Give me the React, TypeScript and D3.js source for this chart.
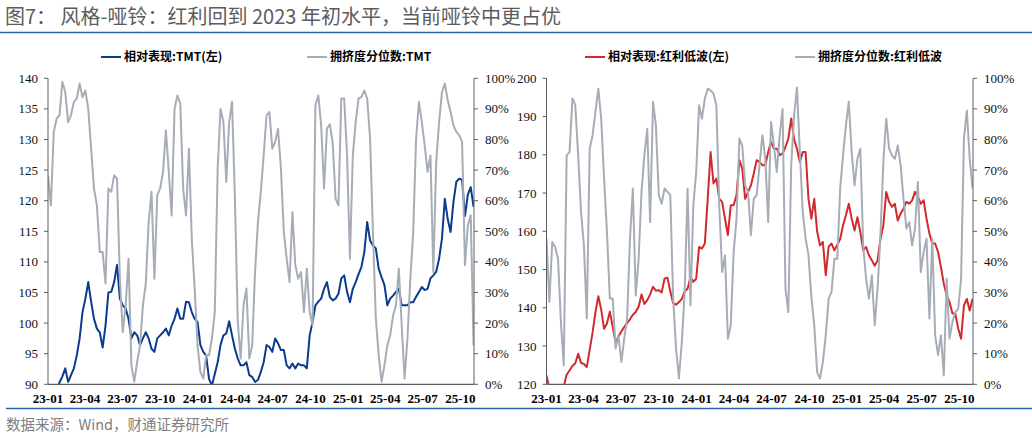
import React from 'react';
import * as d3 from 'd3';

// ---------- data ----------
const startDate = new Date(2023, 0, 1);
const endDate = new Date(2025, 10, 3);
const weekStep = 7; // one value per week from startDate

const xTickLabels = ['23-01', '23-04', '23-07', '23-10', '24-01', '24-04', '24-07', '24-10', '25-01', '25-04', '25-07', '25-10'];

const tmtTicksLeft = [90, 95, 100, 105, 110, 115, 120, 125, 130, 135, 140];
const lowVolTicksLeft = [120, 130, 140, 150, 160, 170, 180, 190, 200];
const pctTicks = [0, 10, 20, 30, 40, 50, 60, 70, 80, 90, 100];

// 相对表现:TMT(左)
const tmtRelative = [
  89, 88.8, 88.5, 89, 90.3, 91.3, 92.6, 90.4, 91.5, 92.6,
  94.7, 97.5, 101.8, 104, 106.7, 103.5, 100.7, 99.1, 98.5, 96,
  99.6, 105, 105.1, 106.7, 109.5, 104, 102.9, 102.4, 100.7, 97.5,
  98.5, 98, 96.4, 97.5, 98.5, 97.5, 95.8, 95.3, 97.5, 98,
  98.5, 99.1, 98, 99.6, 100.7, 102.4, 100.7, 100.7, 103.5, 103.4,
  101.8, 100.7, 100.2, 96.4, 95.3, 94.7, 90.9, 89.8, 91.7, 93.6,
  96.4, 98, 98.3, 100.3, 98, 95.8, 94.2, 93.1, 93.1, 93.6,
  91.5, 91.2, 90.4, 90.7, 92, 93.6, 96.4, 96.1, 95.3, 97.5,
  96.7, 95.6, 95.6, 93.1, 92.6, 93.4, 92.6, 93.4, 93.1, 93.1,
  92.6, 98, 100.2, 102.9, 103.5, 104, 105.6, 106.7, 104.3, 103.7,
  104, 104.8, 107.3, 107.8, 105.1, 103.4, 105.6, 106.7, 108, 109.2,
  111.6, 116.5, 113.5, 112.7, 112.2, 108.9, 107.5, 106.2, 102.9, 104,
  104.5, 105.1, 105.6, 102.9, 102.9, 102.9, 103.4, 103.4, 104.3, 105.1,
  105.9, 105.4, 105.6, 107.3, 107.8, 108.4, 110.5, 113.8, 120.3, 117,
  114.9, 119.8, 123.1, 123.6, 123.4, 117.5, 121, 122.2, 119,
];

// 拥挤度分位数:TMT (%)
const tmtCrowding = [
  68.3, 58.5, 82.5, 86.8, 87.9, 98.8, 95.5, 85.7, 87.9, 92.3,
  93.4, 98.3, 93.8, 96, 90, 77, 63.9, 58.5, 43.2, 43.2,
  33, 64, 62.9, 68.3, 67.2, 34.5, 17.1, 25.8, 41, 6.2,
  0.8, 7.3, 12.7, 25.8, 32.9, 53, 62.9, 34.5, 61.8, 64,
  69.4, 83, 69.4, 55.2, 90, 94.4, 91.7, 63.9, 55.2, 77,
  47.6, 31.3, 12.7, 4, 1.9, 9.5, 9.5, 14.9, 23.6, 70.5,
  90, 85.7, 66.1, 85.7, 92.3, 60.7, 20.4, 8.4, 25.8, 31.3,
  8.4, 12.7, 36.7, 53, 62.9, 74.8, 87.9, 89, 77, 79.2,
  83.5, 70.5, 49.8, 41, 33.4, 56.3, 38.9, 34.5, 36.7, 23.6,
  37.8, 23.6, 19.3, 91.2, 94.4, 84.6, 64, 83.5, 85, 79,
  60.7, 58.5, 93.4, 93.4, 74.8, 41, 74.8, 85.7, 93.4, 93.9,
  96, 93.4, 80.3, 49.8, 21.5, 9.5, 0.8, 6.2, 12.7, 16,
  22.5, 25.8, 37.8, 19.3, 1.9, 14.9, 34.5, 49.8, 80.3, 92.3,
  85.7, 78, 69.4, 74.8, 36.7, 72.7, 85.7, 95.5, 98.3, 92.8,
  89, 84.6, 82.5, 81.4, 79.2, 38.9, 52, 55.2, 12.7,
];

// 相对表现:红利低波(左)
const lowVolRelative = [
  122.3, 119, 117.5, 117, 117.5, 118.5, 119.5, 122.5, 123.6, 124.8,
  125.5, 128, 125.6, 125.3, 124.5, 129, 133.5, 138.8, 143, 139.5,
  134.5, 135.9, 139, 135, 131, 132.5, 133.8, 135, 136, 137,
  138.2, 138.9, 140.3, 143.5, 141, 142, 143.5, 145.5, 144.5, 144.6,
  144, 147.6, 147.9, 144.3, 141.2, 140.8, 141.5, 142.3, 144.3, 145,
  148, 146.8, 147.6, 155.9, 155.5, 156.8, 168.5, 180.7, 172.5, 173.8,
  168.5, 167.7, 163.3, 159, 166.8, 166.8, 169.4, 178.6, 176.4, 168.5,
  170.3, 172, 175.1, 178.6, 178.1, 177.3, 177.3, 180.7, 183.4, 181.6,
  181.6, 179.9, 180.3, 182.1, 184.2, 189.5, 184, 181.6, 178.1, 180.7,
  180.7, 168.5, 163.3, 168.5, 160, 156.3, 157.2, 148.5, 156, 156.8,
  155, 156.5, 158, 161.5, 164.2, 167.2, 163.3, 160.2, 163.7, 159.8,
  155, 155.9, 153.7, 152.4, 151, 152.4, 158, 161.5, 170.3, 167.7,
  166.4, 167.2, 162.8, 164.6, 165.9, 167.7, 167.2, 168.1, 170.3, 169,
  167.2, 168.1, 163.3, 159.4, 156.8, 156.8, 154.6, 150.7, 146.3, 143.2,
  141.5, 138.5, 138.5, 134.6, 131.9, 140.6, 142.3, 139.3, 142.3,
];

// 拥挤度分位数:红利低波 (%)
const lowVolCrowding = [
  47.6, 26.9, 46.5, 44.9, 41, 20.4, 6.2, 74.8, 75.9, 93.4,
  91.2, 74.8, 56.3, 45.4, 21.5, 77, 81.4, 89, 96.6, 86.8,
  67.2, 49.8, 28, 28, 11.7, 16, 7.3, 14.9, 21.5, 47.6,
  64, 29, 41, 62.9, 74.8, 83.5, 53, 92.3, 84.6, 61.8,
  59, 64, 62.9, 61.8, 28, 11.7, 1.9, 13.8, 30.2, 64,
  25.8, 58.5, 69.4, 91.2, 86.8, 93.4, 96.6, 96, 95, 91.2,
  58.5, 36.7, 42.2, 14.9, 19.3, 43.2, 54, 80.3, 78, 65,
  62.9, 48.7, 60.7, 61.8, 71.6, 81.4, 73.7, 53, 85.7, 78,
  69.4, 81.4, 90, 31.3, 23.6, 71.6, 87.9, 97, 75.9, 56.3,
  47.6, 42.2, 28.5, 19.3, 4, 1.9, 7.3, 16, 28, 30.2,
  41, 41, 64, 74.8, 84.6, 92.3, 75.9, 65, 73.7, 77,
  45.4, 34.5, 28, 35.6, 19.3, 31.3, 48.7, 72.7, 86.8, 77,
  74.8, 73.7, 78, 71.6, 60.7, 50.9, 53, 45.4, 50.9, 66.1,
  36.7, 43.2, 47.6, 21.5, 47.6, 16, 9.5, 16, 2.9, 34.5,
  14.9, 20.4, 23.6, 24.6, 34.5, 80.3, 89.5, 73.7, 64,
];

const title = '图7：  风格-哑铃：红利回到 2023 年初水平，当前哑铃中更占优';
const source = '数据来源：Wind，财通证券研究所';

// ---------- styles ----------
const SERIF = '"Times New Roman", "Liberation Serif", serif';
const SANS = '"Noto Sans CJK SC", "Microsoft YaHei", sans-serif';
const AXIS_COLOR = '#5f5f5f';
const GRAY = '#a7adb7';
const BLUE = '#0b3a8e';
const RED = '#d02a2e';
const TOP = 78.3;
const BOTTOM = 384.3;

type PanelProps = {
  id: string;
  x0: number;
  x1: number;
  leftTicks: number[];
  rel: number[];
  crowd: number[];
  relColor: string;
  legendRel: string;
  legendCrowd: string;
  legendRelX: number;
  legendCrowdX: number;
};

function Panel(p: PanelProps) {
  const x = d3.scaleTime().domain([startDate, endDate]).range([p.x0, p.x1]);
  const yL = d3.scaleLinear().domain([p.leftTicks[0], p.leftTicks[p.leftTicks.length - 1]]).range([BOTTOM, TOP]);
  const yR = d3.scaleLinear().domain([0, 100]).range([BOTTOM, TOP]);
  const dateOf = (i: number) => d3.timeDay.offset(startDate, i * weekStep);

  const relLine = d3.line<number>().x((_, i) => x(dateOf(i))).y((v) => yL(v));
  const crowdLine = d3.line<number>().x((_, i) => x(dateOf(i))).y((v) => yR(v));

  const tickDates = xTickLabels.map((s) => new Date(2000 + +s.slice(0, 2), +s.slice(3) - 1, 1));
  const legY = 57;

  return (
    <g>
      <defs>
        <clipPath id={`clip-${p.id}`}>
          <rect x={p.x0} y={TOP - 2} width={p.x1 - p.x0} height={BOTTOM - TOP + 2} />
        </clipPath>
      </defs>
      {/* legend */}
      <line x1={p.legendRelX} x2={p.legendRelX + 20} y1={legY} y2={legY} stroke={p.relColor} strokeWidth={2} />
      <text x={p.legendRelX + 23} y={legY} dy="0.35em" fontFamily={SANS} fontWeight="bold" fontSize={12} fill="#000">{p.legendRel}</text>
      <line x1={p.legendCrowdX} x2={p.legendCrowdX + 20} y1={legY} y2={legY} stroke={GRAY} strokeWidth={2} />
      <text x={p.legendCrowdX + 23} y={legY} dy="0.35em" fontFamily={SANS} fontWeight="bold" fontSize={12} fill="#000">{p.legendCrowd}</text>

      {/* series */}
      <g clipPath={`url(#clip-${p.id})`}>
        <path d={relLine(p.rel) || ''} fill="none" stroke={p.relColor} strokeWidth={2} strokeLinejoin="round" />
        <path d={crowdLine(p.crowd) || ''} fill="none" stroke={GRAY} strokeWidth={2} strokeLinejoin="round" />
      </g>

      {/* axes */}
      <line x1={p.x0} x2={p.x0} y1={TOP} y2={BOTTOM} stroke={AXIS_COLOR} strokeWidth={1} />
      <line x1={p.x1} x2={p.x1} y1={TOP} y2={BOTTOM} stroke={AXIS_COLOR} strokeWidth={1} />
      <line x1={p.x0} x2={p.x1} y1={BOTTOM} y2={BOTTOM} stroke={AXIS_COLOR} strokeWidth={1.2} />
      {p.leftTicks.map((t) => (
        <g key={`l${t}`}>
          <line x1={p.x0 - 4} x2={p.x0} y1={yL(t)} y2={yL(t)} stroke={AXIS_COLOR} />
          <text x={p.x0 - 10} y={yL(t)} dy="0.35em" textAnchor="end" fontFamily={SERIF} fontSize={13} fill="#111">{t}</text>
        </g>
      ))}
      {pctTicks.map((t) => (
        <g key={`r${t}`}>
          <line x1={p.x1} x2={p.x1 + 4} y1={yR(t)} y2={yR(t)} stroke={AXIS_COLOR} />
          <text x={p.x1 + 11} y={yR(t)} dy="0.35em" textAnchor="start" fontFamily={SERIF} fontSize={13} fill="#111">{`${t}%`}</text>
        </g>
      ))}
      {tickDates.map((d, i) => (
        <text key={xTickLabels[i]} x={x(d)} y={403} textAnchor="middle" fontFamily={SERIF} fontWeight="bold" fontSize={13} fill="#000">{xTickLabels[i]}</text>
      ))}
    </g>
  );
}

export default function App() {
  return (
    <div style={{ position: 'absolute', left: 0, top: 0, width: 1032, height: 438, background: '#fff' }}>
      <svg width={1032} height={438} viewBox="0 0 1032 438" style={{ display: 'block' }}>
        <rect x={0} y={0} width={1032} height={438} fill="#fff" />
        <text x={5} y={24} fontFamily={SANS} fontSize={20} fill="#5c5c5c">{title}</text>
        <line x1={0} x2={1032} y1={32.5} y2={32.5} stroke="#2a62b0" strokeWidth={1.3} />

        <Panel id="tmt" x0={48} x1={474} leftTicks={tmtTicksLeft} rel={tmtRelative} crowd={tmtCrowding}
          relColor={BLUE} legendRel="相对表现:TMT(左)" legendCrowd="拥挤度分位数:TMT" legendRelX={101} legendCrowdX={307} />
        <Panel id="lv" x0={546.5} x1={973} leftTicks={lowVolTicksLeft} rel={lowVolRelative} crowd={lowVolCrowding}
          relColor={RED} legendRel="相对表现:红利低波(左)" legendCrowd="拥挤度分位数:红利低波" legendRelX={585} legendCrowdX={795} />

        <line x1={6} x2={1032} y1={408.5} y2={408.5} stroke="#2a62b0" strokeWidth={1.3} />
        <text x={6} y={430} fontFamily={SANS} fontSize={14.5} fill="#808080">{source}</text>
      </svg>
    </div>
  );
}
